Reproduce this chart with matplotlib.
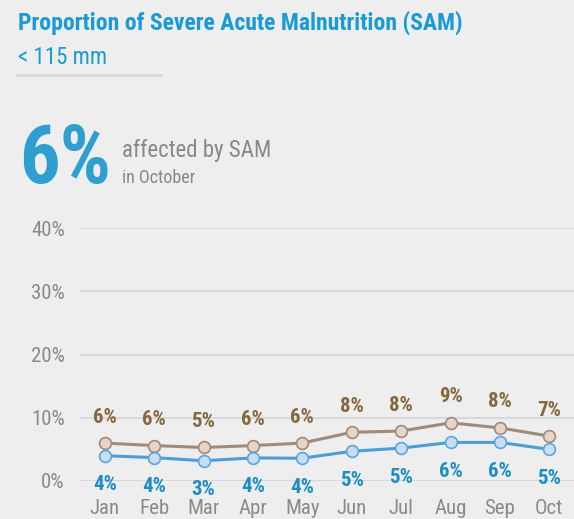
import matplotlib.pyplot as plt
from matplotlib import font_manager

months = ['Jan', 'Feb', 'Mar', 'Apr', 'May', 'Jun', 'Jul', 'Aug', 'Sep', 'Oct']
# brown series (upper) and blue series (lower), percent
brown_vals = [6.0, 5.6, 5.3, 5.6, 6.0, 7.7, 7.9, 9.2, 8.4, 7.1]
blue_vals = [4.0, 3.7, 3.2, 3.65, 3.6, 4.7, 5.2, 6.1, 6.1, 5.0]
yticks = [0, 10, 20, 30, 40]

# pick a narrow sans that has both regular and bold faces
fonts = font_manager.fontManager.ttflist
prefs = ['Liberation Sans Narrow', 'Arial Narrow', 'Roboto Condensed', 'PT Sans Narrow',
         'Barlow Semi Condensed', 'Barlow Condensed', 'Archivo Narrow']
narrow = 'Liberation Sans'
for p in prefs:
    w = {int(f.weight) if str(f.weight).isdigit() else 400 for f in fonts if f.name == p}
    if 400 in w and 700 in w:
        narrow = p
        break

bg = '#eeeeee'
fig = plt.figure(figsize=(5.74, 5.19), dpi=100, facecolor=bg)

# header texts
fig.text(18/574, 1 - 23/519, 'Proportion of Severe Acute Malnutrition (SAM)', family=narrow,
         weight='bold', size=17, color='#1a9ad6', va='center', ha='left')
fig.text(18/574, 1 - 57/519, '< 115 mm', family=narrow, size=16.5, color='#1a9ad6',
         va='center', ha='left')
fig.add_artist(plt.Line2D([17/574, 161/574], [1 - 75/519, 1 - 75/519], color='#d9d9d9', lw=2.2))
fig.text(19/574, 1 - 161/519, '6%', family=narrow, weight='bold', size=58, color='#2e9fd0',
         va='center', ha='left')
fig.text(122/574, 1 - 150/519, 'affected by SAM', family=narrow, size=16.5, color='#888888',
         va='center', ha='left')
fig.text(122/574, 1 - 178/519, 'in October', family=narrow, size=13, color='#888888',
         va='center', ha='left')

ax = fig.add_axes([80/574, 38/519, 494/574, 253/519])
ax.set_facecolor(bg)
x = list(range(len(months)))
ax.plot(x, brown_vals, '-o', color='#a08a7a', lw=2.2, ms=8.5,
        mfc='#e6d5c7', mec='#a08a7a', mew=1.2, clip_on=False, zorder=3)
ax.plot(x, blue_vals, '-o', color='#4d9ed6', lw=2.2, ms=8.5,
        mfc='#c9def4', mec='#5aa6de', mew=1.2, clip_on=False, zorder=3)

for i, v in enumerate(brown_vals):
    ax.annotate(f'{round(v)}%', (i, v), xytext=(0, 26), textcoords='offset pixels',
                ha='center', va='center', family=narrow, weight='bold', size=15,
                color='#86683f', annotation_clip=False)
for i, v in enumerate(blue_vals):
    ax.annotate(f'{round(v)}%', (i, v), xytext=(0, -29), textcoords='offset pixels',
                ha='center', va='center', family=narrow, weight='bold', size=15,
                color='#1b8fc4', annotation_clip=False)

ax.set_xlim(-0.5, 9.5)
ax.set_ylim(0, 40)
ax.set_yticks(yticks)
ax.set_yticklabels([f'{t}%' for t in yticks], family=narrow, size=15, color='#8a8a8a')
ax.set_xticks(x)
ax.set_xticklabels(months, family=narrow, size=15, color='#8a8a8a')
ax.tick_params(length=0, axis='y', pad=11)
ax.tick_params(length=0, axis='x', pad=13)
ax.grid(axis='y', color='#d8d8d8', lw=1.5)
ax.set_axisbelow(True)
for s in ax.spines.values():
    s.set_visible(False)

plt.savefig('out.png', dpi=100, facecolor=bg)
